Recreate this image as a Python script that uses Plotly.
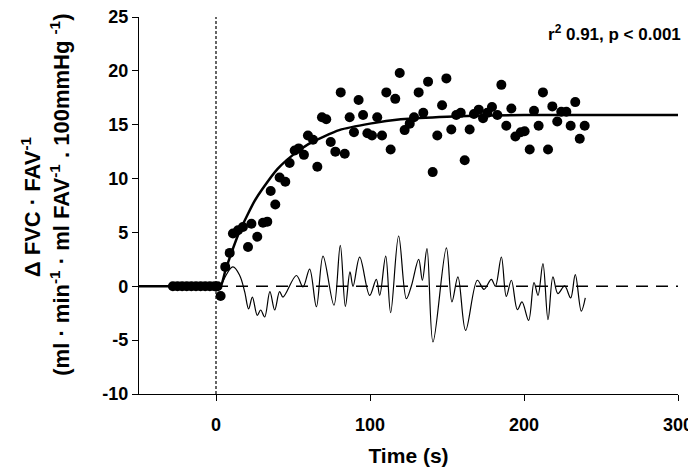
import plotly.graph_objects as go

# ---- data ----
base_t = [-28, -25, -22, -19, -16, -13, -10, -7, -4, -1, 1]
base_v = [0, 0, 0, 0, 0, 0, 0, 0, 0, 0, 0]

obs_t = [3, 6, 8.9, 11, 14.3, 17.5, 20.8, 23, 26.8, 30.5, 33.3, 35.5, 38.5, 41.3, 45,
         47.8, 51.1, 53.7, 57.1, 59.7, 63, 65.8, 68.8, 71.6, 74.5, 77.5, 81, 83.6,
         86.8, 89.6, 92.6, 95.5, 98.3, 101.3, 104.7, 107.8, 110.6, 113.4, 116.4,
         119.3, 122.5, 125.8, 128.6, 131.6, 134.6, 137.7, 140.7, 143.7, 146.8,
         149.6, 152.8, 156, 158.9, 161.5, 164.7, 167.5, 170.6, 173.4, 176.2, 179.2,
         182.7, 185.3, 188.5, 191.8, 194.4, 197.9, 200.4, 203.7, 206.5, 209.5,
         212.3, 215.6, 218.4, 221.6, 224.2, 227.5, 230.3, 233.3, 236.2, 239.4]
obs_v = [-0.9, 1.8, 3.1, 4.9, 5.2, 5.5, 3.65, 5.8, 4.6, 5.9, 6.0, 8.85, 7.6, 10.1, 9.7,
         11.45, 12.6, 12.8, 12.2, 14.0, 13.6, 11.1, 15.7, 15.5, 13.4, 12.5, 18.0, 12.3,
         15.7, 14.3, 17.3, 15.9, 14.2, 14.0, 15.7, 14.0, 18.0, 12.7, 17.4,
         19.8, 14.5, 15.1, 15.7, 18.0, 16.1, 19.0, 10.6, 14.0, 16.8,
         19.3, 14.55, 15.9, 16.1, 11.7, 14.55, 16.0, 16.4, 15.6, 16.1, 16.65,
         15.9, 18.7, 14.9, 16.5, 13.9, 14.3, 14.4, 12.7, 16.3, 14.9,
         18.0, 12.7, 16.7, 15.3, 16.2, 16.2, 14.9, 17.1, 13.7, 14.9]

fit_t = [-50, 0, 3, 6, 10, 15, 20, 25, 30, 40, 50, 60, 70, 80, 100, 120, 150, 200, 250, 300]
fit_v = [0, 0, 0, 1.4, 3.1, 5.0, 6.5, 7.9, 9.0, 10.9, 12.2, 13.2, 13.9, 14.5, 15.1, 15.5,
         15.75, 15.9, 15.9, 15.9]

res_t = [3, 11, 15.4, 18.6, 21.2, 23.6, 26.8, 29, 31.6, 35, 38.1, 41.3, 43.5, 52.2, 56.5,
         60.8, 65.2, 69.5, 76.6, 80.7, 84, 87, 89, 93.3, 99.8, 104.1, 106.3, 110.2,
         113.4, 118.6, 123.6, 126.8, 131.6, 134, 137, 140.9, 149.6, 153.2, 157.1,
         162.1, 169.7, 174, 178.8, 181.4, 185.3, 188.5, 191.8, 195.7, 198.7, 203,
         206.5, 209.1, 212.3, 215.6, 218.8, 222, 226.4, 230.3, 233.3, 237.2, 239.8]
res_v = [0, 1.8, 1.0, -0.5, -2.1, -1.0, -2.7, -2.2, -2.85, -0.5, -2.2, -0.5, -1.0, 1.0, -0.05,
         1.6, -1.9, 2.8, -1.76, 3.8, -1.86, 1.33, 0, 2.7, -0.84, 0.65, -0.84, 2.8,
         -2.45, 4.67, -1.15, 0, 2.5, 0.56, 3.5, -5.17, 3.56, -1.45, 0.87,
         -4.1, 0.56, -0.28, 0.65, 0, 2.72, -0.93, 0.56, -2.17, -1.45, -3.16,
         0.34, -0.84, 2.1, -3.1, 0.87, -0.68, 0.03, -1.08, 1.08, -2.3, -1.08]

zero_t = [0, 300]
zero_v = [0, 0]

x_ticks = [0, 100, 200, 300]
y_ticks = [-10, -5, 0, 5, 10, 15, 20, 25]

FONT = "Arial, Liberation Sans, sans-serif"

fig = go.Figure()

fig.add_trace(go.Scatter(x=zero_t, y=zero_v, mode="lines",
                         line=dict(color="black", width=1.5, dash="12px,8px"),
                         hoverinfo="skip"))
fig.add_trace(go.Scatter(x=res_t, y=res_v, mode="lines",
                         line=dict(color="black", width=1.2, shape="spline", smoothing=1.0)))
fig.add_trace(go.Scatter(x=fit_t, y=fit_v, mode="lines",
                         line=dict(color="black", width=2.5, shape="spline", smoothing=0.6)))
fig.add_trace(go.Scatter(x=base_t + obs_t, y=base_v + obs_v, mode="markers",
                         marker=dict(color="black", size=10)))

fig.add_shape(type="line", xref="x", yref="paper", x0=0, x1=0, y0=0, y1=1.0,
              line=dict(color="black", width=1.2, dash="3px,2px"))

fig.add_annotation(xref="paper", yref="paper", x=1.009, y=0.957,
                   xanchor="right", yanchor="middle", showarrow=False,
                   text="<b>r<sup>2</sup> 0.91, p &lt; 0.001</b>",
                   font=dict(family=FONT, size=17, color="black"))

fig.add_annotation(xref="paper", yref="paper", x=-0.200, y=0.496,
                   xanchor="center", yanchor="middle", showarrow=False, textangle=-90,
                   text="<b>Δ FVC · FAV<sup>-1</sup></b>",
                   font=dict(family=FONT, size=22, color="black"))
fig.add_annotation(xref="paper", yref="paper", x=-0.147, y=0.528,
                   xanchor="center", yanchor="middle", showarrow=False, textangle=-90,
                   text="<b>(ml · min<sup>-1</sup> · ml FAV<sup>-1</sup> . 100mmHg <sup>-1</sup>)</b>",
                   font=dict(family=FONT, size=22, color="black"))

fig.update_layout(
    width=688, height=467,
    margin=dict(l=131, r=18, t=9, b=81, autoexpand=False),
    paper_bgcolor="white", plot_bgcolor="white",
    showlegend=False,
    font=dict(family=FONT, color="black"),
    xaxis=dict(range=[-50, 300], tickvals=x_ticks, ticktext=[f"<b>{v}</b>" for v in x_ticks],
               automargin=False, ticklabeloverflow="allow",
               showgrid=False, zeroline=False, showline=True, linecolor="black", linewidth=1.2,
               ticks="outside", ticklen=6, tickcolor="black", tickwidth=1.2,
               ticklabelstandoff=8,
               tickfont=dict(family=FONT, size=18, color="black"),
               title=dict(text="<b>Time (s)</b>", font=dict(family=FONT, size=21, color="black"),
                          standoff=14)),
    yaxis=dict(range=[-10, 25], tickvals=y_ticks, ticktext=[f"<b>{v}</b>" for v in y_ticks],
               automargin=False, ticklabeloverflow="allow",
               showgrid=False, zeroline=False, showline=True, linecolor="black", linewidth=1.2,
               ticks="outside", ticklen=6, tickcolor="black", tickwidth=1.2,
               tickfont=dict(family=FONT, size=18, color="black")),
)

fig.write_html("out.html")
